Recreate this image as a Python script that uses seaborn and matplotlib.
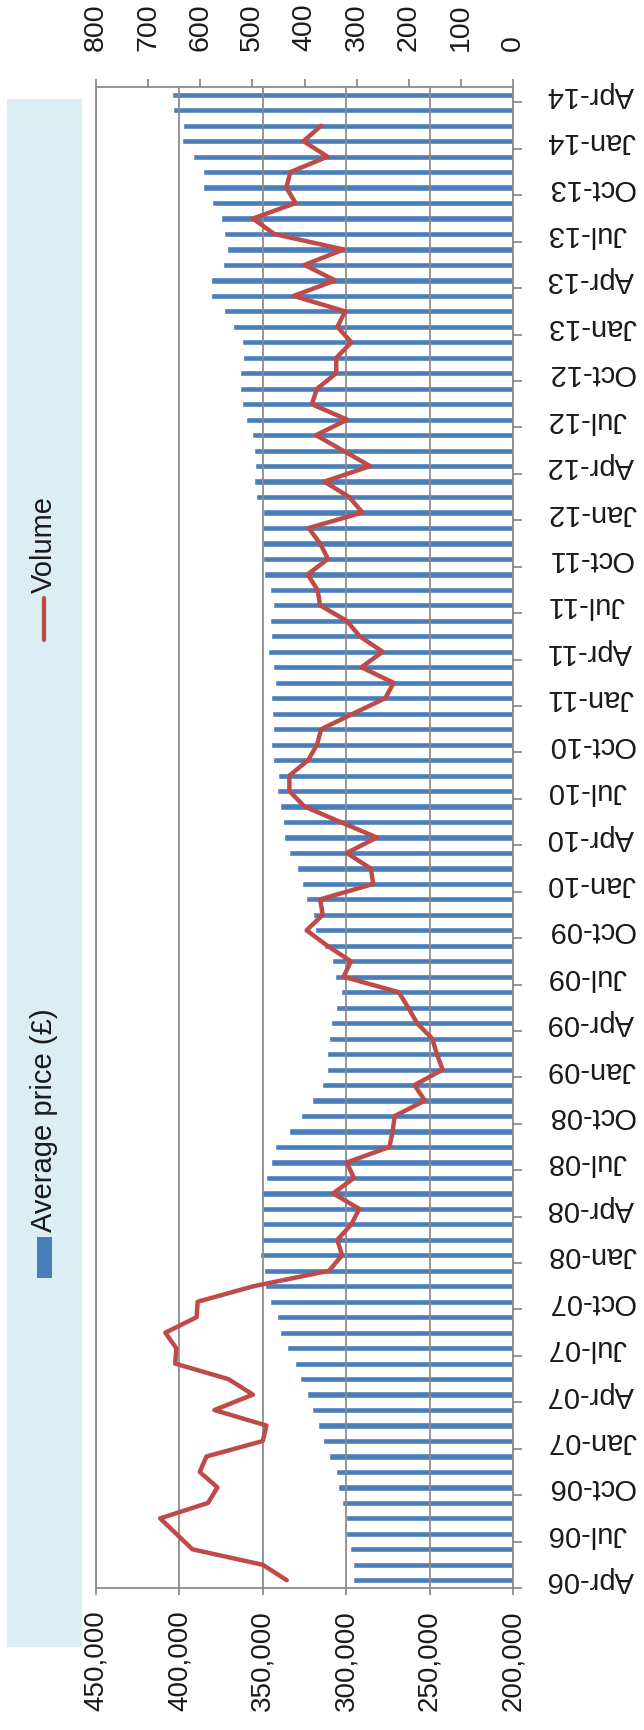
import numpy as np
import pandas as pd
import matplotlib
matplotlib.use("Agg")
import matplotlib.pyplot as plt
from matplotlib.patches import Rectangle
from matplotlib.lines import Line2D
from matplotlib.ticker import FuncFormatter
import seaborn as sns

# Monthly series, Apr-06 .. Apr-14
months = pd.date_range("2006-04-01", periods=97, freq="MS").strftime("%b-%y").tolist()

avg_price = [
    296100, 295900, 298000, 300300, 300000, 302400, 305100, 306300, 310200,
    313700, 316900, 320800, 323700, 327600, 330900, 335500, 339900,
    341700, 345600, 348700, 349400, 351800, 351000, 350200, 350200,
    350800, 347900, 345200, 342500, 334000, 327000, 320800, 314600,
    311500, 311700, 310500, 309000, 306300, 303200, 306900, 308400,
    313100, 318500, 320000, 323900, 326200, 329300, 334000, 337200,
    337800, 339400, 341300, 340900, 343800, 345000, 344000, 344400,
    344800, 342500, 344000, 347100, 344800, 345600, 343600, 345600,
    349000, 349600, 350600, 350200, 349600, 353900, 355200, 354800,
    355400, 356200, 359900, 362600, 363900, 363500, 361800, 362600,
    367600, 373000, 380800, 380800, 373800, 371500, 373400, 374800,
    380400, 386000, 385600, 392000, 398200, 398000, 404000, 404600,
]

volume = [
    434, 480, 615, 646, 677, 585, 567, 601, 588, 480, 473, 573, 499, 546, 648, 646, 667,
    607, 605, 498, 353, 328, 337, 310, 295, 345, 305, 319, 237, 231, 227, 169, 189,
    135, 146, 155, 184, 201, 219, 325, 311, 356, 396, 365, 370, 268, 273, 319, 261,
    331, 400, 429, 429, 393, 376, 368, 307, 245, 229, 291, 250, 294, 319, 370, 375,
    394, 355, 370, 392, 289, 314, 362, 274, 326, 378, 318, 386, 376, 339, 339, 310,
    337, 322, 421, 341, 400, 325, 458, 499, 417, 435, 427, 356, 402, 368,
]

price_ticks = list(range(200000, 450001, 50000))
volume_ticks = list(range(0, 801, 100))
label_idx = list(range(0, len(months), 3))

BAR = "#4A7EBB"
LINE = "#BE4B48"
GRID = "#8C8C8C"
LEGEND_BG = "#DBEEF3"
TEXT = "#1a1a1a"

sns.set_theme(style="white")
plt.rcParams["font.family"] = ["Liberation Sans", "DejaVu Sans"]
plt.rcParams["text.color"] = TEXT
plt.rcParams["xtick.color"] = TEXT
plt.rcParams["ytick.color"] = TEXT

W, H = 644, 1730
fig = plt.figure(figsize=(W / 100, H / 100), dpi=100)
fig.patch.set_facecolor("white")


def fx(px):
    return px / W


def fy(py):
    return 1 - py / H


rect = [fx(96), fy(1588), fx(513) - fx(96), fy(87) - fy(1588)]
ax = fig.add_axes(rect)

price_df = pd.DataFrame({"month": months, "price": avg_price})
sns.barplot(data=price_df, x="price", y="month", order=months, orient="h",
            color=BAR, saturation=1, width=0.4, errorbar=None, ax=ax)

ax.set_xlim(450000, 200000)
ax.set_ylim(-0.5, len(months) - 0.5)
ax.set_xlabel("")
ax.set_ylabel("")
ax.set_xticks(price_ticks)
ax.xaxis.set_major_formatter(FuncFormatter(lambda v, p: f"{int(v):,}"))
ax.grid(axis="x", color=GRID, lw=1.3)
ax.grid(axis="y", visible=False)
# gridlines sit over the bars
ax.set_axisbelow(False)

ax.yaxis.tick_right()
ax.set_yticks(label_idx, [months[i] for i in label_idx])
ax.set_yticks(np.arange(-0.5, len(months) - 1, 3), minor=True)
ax.tick_params(axis="y", which="major", length=0, pad=24.5, labelsize=21,
               labelrotation=180)
ax.tick_params(axis="y", which="minor", length=6.5, width=1.3, color=GRID,
               right=True, left=False)
for tick in ax.yaxis.get_major_ticks():
    tick.label1.set_va("center")
    tick.label2.set_va("center")
ax.tick_params(axis="x", length=5, width=1.3, color=GRID, pad=11,
               labelsize=20, labelrotation=90)
for s in ax.spines.values():
    s.set_visible(True)
    s.set_color(GRID)
    s.set_linewidth(1.3)

ax2 = ax.twiny()
sns.lineplot(x=volume, y=np.arange(len(volume)), ax=ax2, orient="y", sort=False,
             estimator=None, color=LINE, lw=3.2)
ax2.set_xlim(800, 0)
ax2.set_ylim(-0.5, len(months) - 0.5)
ax2.set_xticks(volume_ticks)
ax2.set_xlabel("")
ax2.tick_params(axis="x", length=5.8, width=1.3, color=GRID, pad=20,
                labelsize=20.5, labelrotation=90)
for s in ax2.spines.values():
    s.set_visible(False)

# Legend panel, laid out along the left edge
fig.add_artist(Rectangle((fx(7), fy(1647)), fx(82) - fx(7), fy(99) - fy(1647),
                         transform=fig.transFigure, facecolor=LEGEND_BG,
                         edgecolor="none", zorder=0))
fig.add_artist(Rectangle((fx(37), fy(1278)), fx(52) - fx(37), fy(1237) - fy(1278),
                         transform=fig.transFigure, facecolor=BAR,
                         edgecolor="none"))
fig.add_artist(Line2D([fx(44), fx(44)], [fy(598), fy(640)],
                      transform=fig.transFigure, color=LINE, lw=3))
fig.text(fx(44), fy(1232), "Average price (£)", rotation=90, ha="center",
         va="bottom", fontsize=21)
fig.text(fx(44), fy(593), "Volume", rotation=90, ha="center", va="bottom",
         fontsize=21)

fig.savefig("out.png", dpi=100)
